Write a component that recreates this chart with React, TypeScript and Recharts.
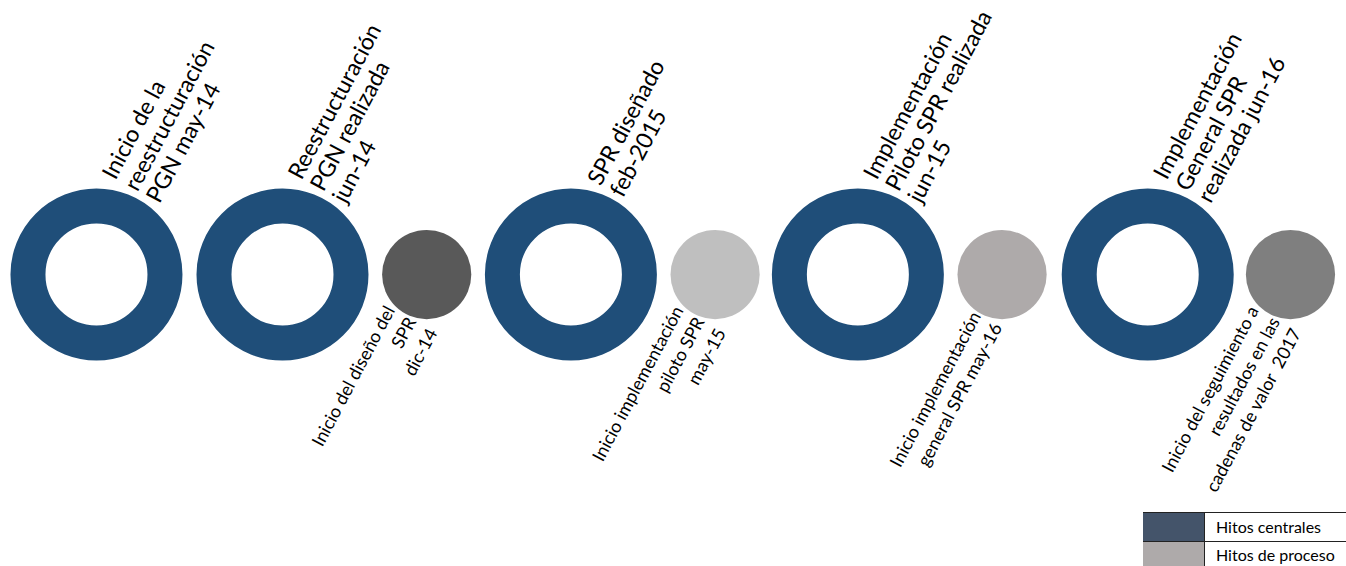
import React from "react";
import { ScatterChart, Scatter, XAxis, YAxis } from "recharts";

// milestone positions along the timeline (one unit = one regular step)
const CENTRAL_X = [0, 1.29, 3.29, 5.28, 7.29];
const CENTRAL_LABELS = [
  ["Inicio de la", "reestructuración", "PGN may-14"],
  ["Reestructuración", "PGN realizada", "jun-14"],
  ["SPR diseñado", "feb-2015"],
  ["Implementación", "Piloto SPR realizada", "jun-15"],
  ["Implementación", "General SPR", "realizada jun-16"],
];
const PROCESS_X = [2.29, 4.29, 6.28, 8.28];
const PROCESS_LABELS = [
  ["Inicio del diseño del", "SPR", "dic-14"],
  ["Inicio implementación", "piloto SPR", "may-15"],
  ["Inicio implementación", "general SPR may-16"],
  ["Inicio del seguimiento a", "resultados en las", "cadenas de valor  2017"],
];
const LEGEND_ITEMS = ["Hitos centrales", "Hitos de proceso"];

const RING = "#1f4e79";
const PROCESS_FILLS = ["#595959", "#bfbfbf", "#aeaaaa", "#7f7f7f"];
const LEGEND_FILLS = ["#44546a", "#aeaaaa"];
const FONT = "Lato, 'Open Sans', sans-serif";
const ANGLE = -62;

const centralData = CENTRAL_X.map((x, i) => ({ x, y: 1, lines: CENTRAL_LABELS[i] }));
const processData = PROCESS_X.map((x, i) => ({ x, y: 1, lines: PROCESS_LABELS[i], idx: i }));

function RotatedLabel({
  x,
  y,
  lines,
  anchor,
  step,
  fontSize,
}: {
  x: number;
  y: number;
  lines: string[];
  anchor: "start" | "end";
  step: number;
  fontSize: number;
}) {
  const mid = (lines.length - 1) / 2;
  return (
    <text
      transform={`translate(${x},${y}) rotate(${ANGLE})`}
      textAnchor={anchor}
      fontFamily={FONT}
      fontSize={fontSize}
      fill="#000"
      style={{ whiteSpace: "pre" }}
    >
      {lines.map((l, i) => (
        <tspan key={i} x={0} y={(i - mid) * step}>
          {l}
        </tspan>
      ))}
    </text>
  );
}

const CentralShape = (props: any) => {
  const { cx, cy, payload } = props;
  return (
    <g>
      <circle cx={cx} cy={cy} r={68.5} fill="none" stroke={RING} strokeWidth={35} />
      <RotatedLabel x={cx + 41} y={cy - 82} lines={payload.lines} anchor="start" step={25} fontSize={23} />
    </g>
  );
};

const ProcessShape = (props: any) => {
  const { cx, cy, payload } = props;
  return (
    <g>
      <circle cx={cx} cy={cy} r={44.6} fill={PROCESS_FILLS[payload.idx]} />
      <RotatedLabel x={cx - 10} y={cy + 47} lines={payload.lines} anchor="end" step={24} fontSize={18} />
    </g>
  );
};

function LegendTable() {
  return (
    <table
      style={{
        position: "absolute",
        left: 1143,
        top: 512,
        width: 203,
        borderCollapse: "collapse",
        fontFamily: FONT,
        fontSize: 16,
      }}
    >
      <tbody>
        {LEGEND_ITEMS.map((name, i) => (
          <tr key={name} style={{ height: i === 0 ? 29 : 27 }}>
            <td
              style={{
                width: 61,
                padding: 0,
                background: LEGEND_FILLS[i],
                borderTop: "1px solid #222",
                borderRight: "1px solid #222",
              }}
            />
            <td style={{ padding: "0 0 2px 11px", borderTop: "1px solid #222", color: "#000" }}>{name}</td>
          </tr>
        ))}
      </tbody>
    </table>
  );
}

export default function App() {
  return (
    <div style={{ position: "absolute", left: 0, top: 0, width: 1346, height: 566, overflow: "hidden", background: "#fff" }}>
      <ScatterChart width={1346} height={566} margin={{ top: 0, right: 0, bottom: 0, left: 0 }}>
        <XAxis type="number" dataKey="x" domain={[-0.669, 8.665]} hide />
        <YAxis type="number" dataKey="y" domain={[0, 1.942]} hide />
        <Scatter name="Hitos centrales" data={centralData} shape={CentralShape} isAnimationActive={false} />
        <Scatter name="Hitos de proceso" data={processData} shape={ProcessShape} isAnimationActive={false} />
      </ScatterChart>
      <LegendTable />
    </div>
  );
}
